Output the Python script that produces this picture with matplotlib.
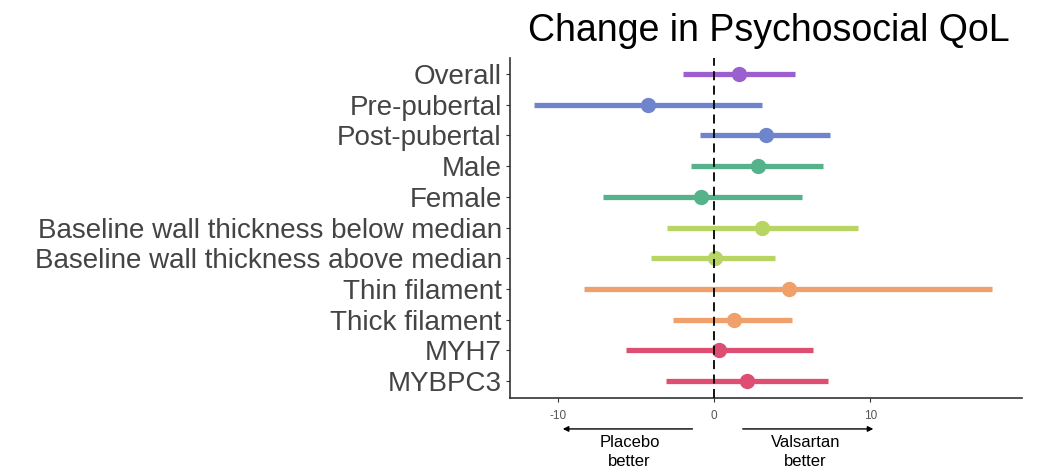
import numpy as np
import matplotlib
matplotlib.use('Agg')
import matplotlib.pyplot as plt
from matplotlib import transforms

plt.rcParams['font.family'] = ['Liberation Sans', 'DejaVu Sans']

groups = ['Overall', 'Pre-pubertal', 'Post-pubertal', 'Male', 'Female',
          'Baseline wall thickness below median', 'Baseline wall thickness above median',
          'Thin filament', 'Thick filament', 'MYH7', 'MYBPC3']
estimate = [1.6, -4.2, 3.3, 2.8, -0.8, 3.1, 0.05, 4.8, 1.25, 0.35, 2.1]
lower = [-2.0, -11.5, -0.9, -1.5, -7.1, -3.0, -4.0, -8.3, -2.6, -5.6, -3.1]
upper = [5.2, 3.1, 7.4, 7.0, 5.6, 9.2, 3.9, 17.8, 5.0, 6.35, 7.3]
colors = ['#9b5fd0', '#6e85ce', '#6e85ce', '#55b28a', '#55b28a', '#b8d564', '#b8d564',
          '#f0a06a', '#f0a06a', '#de4e72', '#de4e72']

fig = plt.figure(figsize=(10.38, 4.70), dpi=100)
ax = fig.add_axes([0.4913, 0.1532, 0.4933, 0.7234])

ypos = np.arange(len(groups))
for y, e, lo, hi, c in zip(ypos, estimate, lower, upper, colors):
    ax.plot([lo, hi], [y, y], color=c, lw=3.8, solid_capstyle='butt', zorder=2)
    ax.plot(e, y, 'o', color=c, ms=10, zorder=3)

ax.axvline(0, color='black', ls=(0, (5, 3)), lw=1.3, zorder=4)

ax.set_xlim(-13.05, 19.7)
ax.set_ylim(10.55, -0.52)
ax.set_yticks(ypos)
ax.set_yticklabels(groups, fontsize=20, color='#444444')
ax.set_xticks([-10, 0, 10])
ax.set_xticklabels(['-10', '0', '10'], fontsize=8.5, color='#555555')
ax.tick_params(axis='both', length=3, width=0.8, color='#333333')
ax.tick_params(axis='x', pad=6)
ax.tick_params(axis='y', pad=3)
for s in ['top', 'right']:
    ax.spines[s].set_visible(False)
for s in ['left', 'bottom']:
    ax.spines[s].set_color('#333333')
    ax.spines[s].set_linewidth(1.2)

ax.set_title('Change in Psychosocial QoL', fontsize=27, x=0.505, y=1.025)

# arrows under the axis
trans = transforms.blended_transform_factory(ax.transData, ax.transAxes)
ax.annotate('', xy=(-9.85, -0.091), xytext=(-1.2, -0.091), xycoords=trans, textcoords=trans,
            arrowprops=dict(arrowstyle='-|>', color='black', lw=1, mutation_scale=8), annotation_clip=False)
ax.annotate('', xy=(10.37, -0.091), xytext=(1.66, -0.091), xycoords=trans, textcoords=trans,
            arrowprops=dict(arrowstyle='-|>', color='black', lw=1, mutation_scale=8), annotation_clip=False)
ax.text(-5.4, -0.16, 'Placebo\nbetter', transform=trans, ha='center', va='center',
        fontsize=12, linespacing=1.35)
ax.text(5.85, -0.16, 'Valsartan\nbetter', transform=trans, ha='center', va='center',
        fontsize=12, linespacing=1.35)

fig.savefig('out.png', dpi=100)
